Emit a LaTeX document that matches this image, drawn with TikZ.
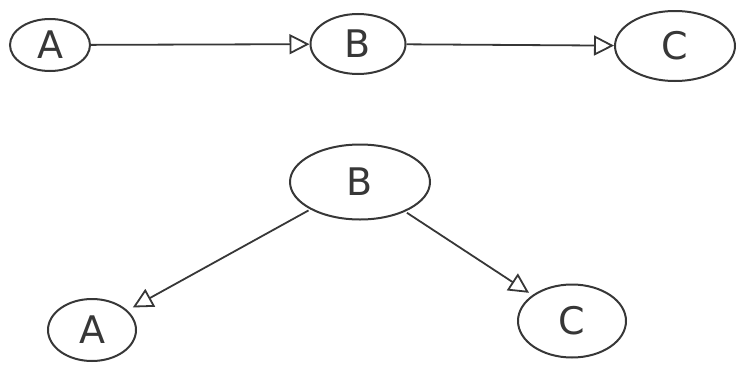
\documentclass[tikz,border=0pt]{standalone}
\usepackage{fontspec}
\setmainfont{DejaVu Sans}
\usetikzlibrary{shapes.geometric,arrows.meta}
\definecolor{pencil}{RGB}{55,55,55}
\tikzset{
  bubble/.style={ellipse, draw=pencil, line width=2pt, inner sep=0pt, text=pencil, font=\fontsize{38}{38}\selectfont},
  link/.style={draw=pencil, line width=1.8pt, -{Triangle[open, length=20pt, width=20pt, line width=1.8pt]}}
}
\begin{document}
\begin{tikzpicture}[x=1pt,y=-1pt]
\useasboundingbox (0,0) rectangle (738,364);
% top row
\node[bubble, minimum width=80pt, minimum height=52pt] (a1) at (50,45) {A};
\node[bubble, minimum width=95pt, minimum height=60pt] (b1) at (358,44) {B};
\node[bubble, minimum width=120pt, minimum height=70pt] (c1) at (675,46) {C};
\draw[link] (a1) -- (b1);
\draw[link] (b1) -- (c1);
% bottom tree
\node[bubble, minimum width=140pt, minimum height=75pt] (b2) at (360,182) {B};
\node[bubble, minimum width=88pt, minimum height=62pt] (a2) at (92,330) {A};
\node[bubble, minimum width=108pt, minimum height=73pt] (c2) at (572,321) {C};
\draw[link, shorten <=2pt, shorten >=6pt] (b2) -- (a2);
\draw[link, shorten <=2pt, shorten >=4pt] (b2) -- (c2);
\end{tikzpicture}
\end{document}
